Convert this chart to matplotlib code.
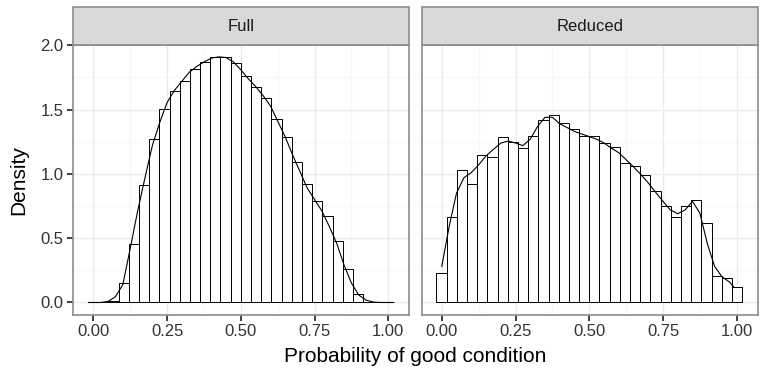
import matplotlib

matplotlib.use("Agg")
import matplotlib.pyplot as plt
import numpy as np
from matplotlib.patches import Rectangle

plt.rcParams["font.family"] = ["Liberation Sans", "DejaVu Sans"]

panels = ["Full", "Reduced"]

# histogram: 30 bins shared by both panels
bin_lo, bin_hi, n_bins = -0.018, 1.018, 30

full_hist = [0.0, 0.0, 0.015, 0.154, 0.456, 0.911, 1.271, 1.508, 1.646, 1.724,
             1.818, 1.867, 1.911, 1.906, 1.862, 1.758, 1.672, 1.594, 1.424, 1.286,
             1.091, 0.924, 0.786, 0.669, 0.479, 0.258, 0.063, 0.0, 0.0, 0.0]
reduced_hist = [0.227, 0.661, 1.034, 0.924, 1.146, 1.133, 1.289, 1.250, 1.203, 1.292,
                1.422, 1.461, 1.396, 1.346, 1.294, 1.292, 1.237, 1.206, 1.086, 1.065,
                0.990, 0.865, 0.747, 0.667, 0.747, 0.797, 0.617, 0.206, 0.193, 0.122]

# density curves
full_dens_x = [-0.016, 0.0, 0.025, 0.05, 0.075, 0.10, 0.125, 0.15, 0.175, 0.20,
               0.225, 0.25, 0.275, 0.30, 0.325, 0.35, 0.375, 0.40, 0.425, 0.45,
               0.475, 0.50, 0.525, 0.55, 0.575, 0.60, 0.625, 0.65, 0.675, 0.70,
               0.725, 0.75, 0.775, 0.80, 0.825, 0.85, 0.875, 0.90, 0.925, 0.95,
               0.975, 1.0, 1.015]
full_dens_y = [0.0, 0.0, 0.0, 0.008, 0.045, 0.14, 0.42, 0.71, 0.97, 1.22,
               1.40, 1.555, 1.65, 1.72, 1.79, 1.835, 1.87, 1.90, 1.91, 1.905,
               1.87, 1.81, 1.74, 1.68, 1.61, 1.53, 1.41, 1.29, 1.15, 1.02,
               0.89, 0.80, 0.71, 0.59, 0.46, 0.29, 0.15, 0.057, 0.018, 0.003,
               0.0, 0.0, 0.0]
reduced_dens_x = [0.0, 0.025, 0.05, 0.075, 0.10, 0.125, 0.15, 0.175, 0.20, 0.225,
                  0.25, 0.275, 0.30, 0.325, 0.35, 0.375, 0.40, 0.425, 0.45, 0.475,
                  0.50, 0.525, 0.55, 0.575, 0.60, 0.625, 0.65, 0.675, 0.70, 0.725,
                  0.75, 0.775, 0.80, 0.825, 0.85, 0.875, 0.90, 0.925, 0.95, 0.975,
                  0.99]
reduced_dens_y = [0.28, 0.59, 0.85, 0.97, 1.01, 1.07, 1.14, 1.19, 1.24, 1.255,
                  1.24, 1.22, 1.27, 1.37, 1.44, 1.44, 1.39, 1.36, 1.33, 1.31,
                  1.29, 1.27, 1.24, 1.20, 1.165, 1.11, 1.055, 0.995, 0.93, 0.857,
                  0.786, 0.72, 0.69, 0.72, 0.786, 0.695, 0.46, 0.28, 0.20, 0.16,
                  0.12]

x_ticks = [0.0, 0.25, 0.5, 0.75, 1.0]
x_ticklabels = ["0.00", "0.25", "0.50", "0.75", "1.00"]
y_ticks = [0.0, 0.5, 1.0, 1.5, 2.0]
y_ticklabels = ["0.0", "0.5", "1.0", "1.5", "2.0"]

W, H = 764, 373
fig = plt.figure(figsize=(W / 100, H / 100), dpi=100)

edges = np.linspace(bin_lo, bin_hi, n_bins + 1)
centers = (edges[:-1] + edges[1:]) / 2
width = edges[1] - edges[0]

lefts = [73.3, 421.7]
panel_w = 336.0
top_px, bot_px, strip_top = 45.3, 314.7, 7.0

data = [(full_hist, full_dens_x, full_dens_y),
        (reduced_hist, reduced_dens_x, reduced_dens_y)]

for i, (name, (hist, dx, dy)) in enumerate(zip(panels, data)):
    ax = fig.add_axes([lefts[i] / W, 1 - bot_px / H, panel_w / W, (bot_px - top_px) / H])
    ax.set_xlim(-0.068, 1.071)
    ax.set_ylim(-0.095, 2.0)
    ax.set_xticks(x_ticks)
    ax.set_xticks([0.125, 0.375, 0.625, 0.875], minor=True)
    ax.set_yticks(y_ticks)
    ax.set_yticks([0.25, 0.75, 1.25, 1.75], minor=True)
    ax.grid(which="major", color="#EBEBEB", lw=1.0)
    ax.grid(which="minor", color="#F7F7F7", lw=0.8)
    ax.set_axisbelow(True)
    ax.bar(centers, hist, width=width, facecolor="white", edgecolor="black", lw=0.7, zorder=2)
    ax.plot(dx, dy, color="black", lw=0.8, zorder=3)
    for s in ax.spines.values():
        s.set_color("#8C8C8C")
        s.set_linewidth(1.2)
    ax.tick_params(which="major", length=4, width=1.3, color="#333333",
                   labelsize=12, labelcolor="#333333", pad=3)
    ax.tick_params(which="minor", length=0)
    ax.set_xticklabels(x_ticklabels)
    if i == 0:
        ax.set_yticklabels(y_ticklabels)
    else:
        ax.tick_params(axis="y", which="major", length=0, labelleft=False)

    sax = fig.add_axes([lefts[i] / W, 1 - top_px / H, panel_w / W, (top_px - strip_top) / H])
    sax.set_xlim(0, 1)
    sax.set_ylim(0, 1)
    sax.axis("off")
    sax.add_patch(Rectangle((0, 0), 1, 1, facecolor="#D9D9D9", edgecolor="#8C8C8C",
                            lw=1.2, transform=sax.transAxes, clip_on=False))
    sax.text(0.5, 0.5, name, ha="center", va="center", fontsize=12, color="#1A1A1A")

fig.text(415 / W, 1 - 356 / H, "Probability of good condition", ha="center", va="center",
         fontsize=15, color="black")
fig.text(19 / W, 1 - 180 / H, "Density", ha="center", va="center", rotation=90,
         fontsize=15, color="black")

fig.savefig("out.png", dpi=100)
